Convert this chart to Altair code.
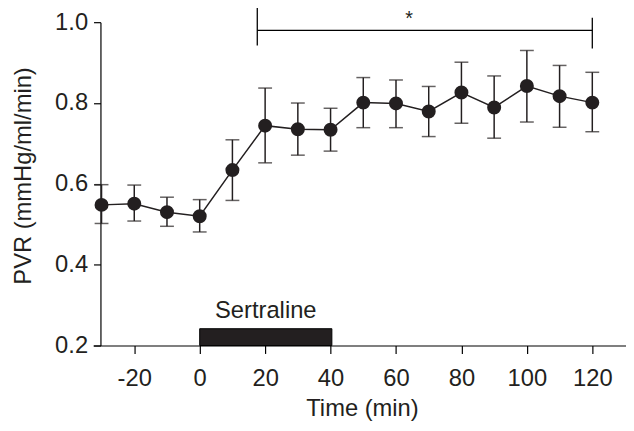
import altair as alt
import pandas as pd

times = [-30, -20, -10, 0, 10, 20, 30, 40, 50, 60, 70, 80, 90, 100, 110, 120]
mean = [0.548, 0.551, 0.530, 0.520, 0.634, 0.744, 0.735, 0.734, 0.801, 0.799, 0.779, 0.826, 0.789, 0.842, 0.817, 0.801]
upper = [0.598, 0.597, 0.567, 0.561, 0.709, 0.837, 0.800, 0.787, 0.863, 0.857, 0.841, 0.901, 0.867, 0.930, 0.893, 0.876]
lower = [0.502, 0.508, 0.495, 0.481, 0.559, 0.652, 0.671, 0.681, 0.739, 0.739, 0.717, 0.750, 0.713, 0.753, 0.740, 0.729]

x_ticks = [-20, 0, 20, 40, 60, 80, 100, 120]
y_ticks = [0.2, 0.4, 0.6, 0.8, 1.0]

drug_label = ["Sertraline"]
drug_start = [0]
drug_end = [40.4]
drug_low = [0.2]
drug_high = [0.2416]

sig_start = [17.6]
sig_end = [120]
sig_level = [0.98]
sig_left_tick = [0.9425, 1.038]
sig_right_tick = [0.935, 1.011]
sig_mark = ["*"]
sig_mark_x = [64]

df = pd.DataFrame({"t": times, "m": mean, "hi": upper, "lo": lower})
ink = "#231f20"
FONT = "Liberation Sans"
FS = 24

xs = alt.Scale(domain=[-32.6, 130.3], nice=False, zero=False)
ys = alt.Scale(domain=[0.2, 1.0], nice=False, zero=False)

x_axis = alt.Axis(values=x_ticks, labelExpr="'' + datum.value", title="Time (min)",
                  grid=False, domainColor="black", tickColor="black", tickSize=8,
                  domainWidth=1.2, tickWidth=1.2, labelFontSize=FS, titleFontSize=FS,
                  labelFont=FONT, titleFont=FONT, labelColor=ink, titleColor=ink,
                  labelPadding=13, titleFontWeight="normal",
                  titleX=272, titleY=71, titleBaseline="alphabetic", titleAlign="center")
y_axis = alt.Axis(values=y_ticks, format=".1f", title="PVR (mmHg/ml/min)",
                  grid=False, domainColor="black", tickColor="black", tickSize=7,
                  domainWidth=1.2, tickWidth=1.2, labelFontSize=FS, titleFontSize=FS,
                  labelFont=FONT, titleFont=FONT, labelColor=ink, titleColor=ink,
                  labelPadding=6, titleFontWeight="normal", offset=-7.5,
                  titleX=-78, titleY=155, titleBaseline="middle", titleAlign="center", titleAngle=270)

base = alt.Chart(df)

bars = base.mark_rule(color=ink, strokeWidth=1.5).encode(
    x=alt.X("t:Q", scale=xs, axis=x_axis), y=alt.Y("lo:Q", scale=ys, axis=y_axis), y2="hi:Q")
cap_hi = base.mark_tick(orient="horizontal", color=ink, size=14, thickness=1.5).encode(
    x=alt.X("t:Q", scale=xs), y=alt.Y("hi:Q", scale=ys))
cap_lo = base.mark_tick(orient="horizontal", color=ink, size=14, thickness=1.5).encode(
    x=alt.X("t:Q", scale=xs), y=alt.Y("lo:Q", scale=ys))
line = base.mark_line(color=ink, strokeWidth=1.5).encode(
    x=alt.X("t:Q", scale=xs), y=alt.Y("m:Q", scale=ys))
pts = base.mark_point(filled=True, color=ink, size=200, opacity=1).encode(
    x=alt.X("t:Q", scale=xs), y=alt.Y("m:Q", scale=ys))

drug_df = pd.DataFrame({"label": drug_label, "x0": drug_start, "x1": drug_end,
                        "y0": drug_low, "y1": drug_high})
drug = alt.Chart(drug_df).mark_rect(color=ink, stroke="black", strokeWidth=1).encode(
    x=alt.X("x0:Q", scale=xs), x2="x1:Q", y=alt.Y("y0:Q", scale=ys), y2="y1:Q")
drug_text = alt.Chart(drug_df).mark_text(font=FONT, fontSize=FS, color=ink, dy=-18,
                                         baseline="middle").encode(
    x=alt.X("mid:Q", scale=xs), y=alt.Y("y1:Q", scale=ys), text="label:N"
).transform_calculate(mid="(datum.x0 + datum.x1) / 2")

sig_df = pd.DataFrame({"a": sig_start, "b": sig_end, "y": sig_level})
sig_h = alt.Chart(sig_df).mark_rule(color="black", strokeWidth=1.3).encode(
    x=alt.X("a:Q", scale=xs), x2="b:Q", y=alt.Y("y:Q", scale=ys))
sig_l = alt.Chart(pd.DataFrame({"x": sig_start * 2, "y": sig_left_tick})).mark_rule(
    color="black", strokeWidth=1.3).encode(
    x=alt.X("min(x):Q", scale=xs), y=alt.Y("min(y):Q", scale=ys), y2="max(y):Q")
sig_r = alt.Chart(pd.DataFrame({"x": sig_end * 2, "y": sig_right_tick})).mark_rule(
    color="black", strokeWidth=1.3).encode(
    x=alt.X("min(x):Q", scale=xs), y=alt.Y("min(y):Q", scale=ys), y2="max(y):Q")
star = alt.Chart(pd.DataFrame({"x": sig_mark_x, "y": [1.0], "s": sig_mark})).mark_text(
    font=FONT, fontSize=20, color=ink, baseline="alphabetic", dy=3).encode(
    x=alt.X("x:Q", scale=xs), y=alt.Y("y:Q", scale=ys), text="s:N")

chart = alt.layer(bars, cap_hi, cap_lo, line, pts, drug, drug_text, sig_h, sig_l, sig_r, star).properties(
    width=539, height=327,
    autosize=alt.AutoSizeParams(type="none"),
    padding={"left": 86, "top": 12, "right": 0, "bottom": 76},
).configure_view(stroke=None)

chart.save("out.html", embed_options={"renderer": "svg", "actions": False})
